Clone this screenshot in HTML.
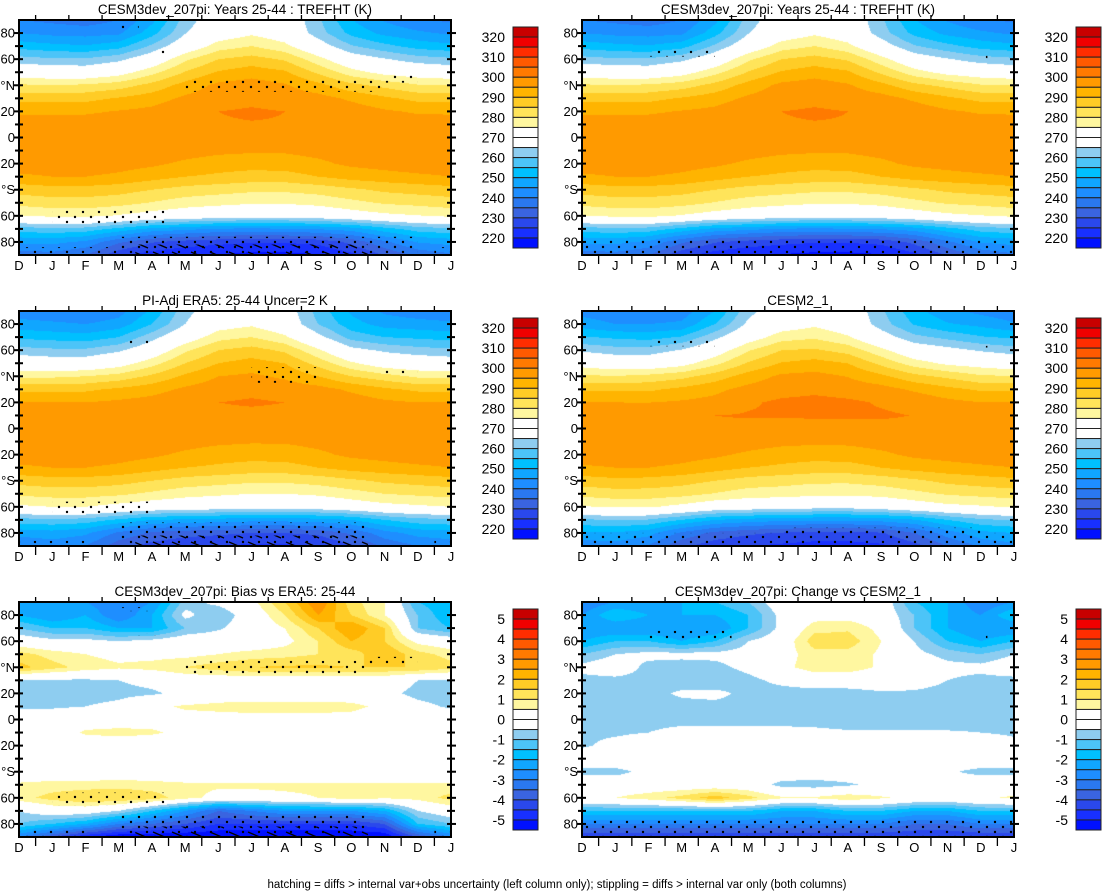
<!DOCTYPE html>
<html><head><meta charset="utf-8">
<style>
html,body{margin:0;padding:0;background:#fff;}
#wrap{position:relative;width:1102px;height:891px;overflow:hidden;font-family:"Liberation Sans",Arial,sans-serif;}
canvas{position:absolute;}
svg{position:absolute;left:0;top:0;}
</style></head>
<body>
<div id="wrap">
<canvas id="c0"></canvas>
<canvas id="c1"></canvas>
<canvas id="c2"></canvas>
<canvas id="c3"></canvas>
<canvas id="c4"></canvas>
<canvas id="c5"></canvas>
<svg id="ov" width="1102" height="891"></svg>
</div>
<script>
// ---- data ----
const monthLabels = ['D','J','F','M','A','M','J','J','A','S','O','N','D','J'];
const latRows = [90,80,70,60,50,40,30,20,10,0,-10,-20,-30,-40,-50,-60,-70,-80,-90];
const yTickLabels = ['80','60','°N','20','0','20','°S','60','80'];
const yTickLats = [80,60,40,20,0,-20,-40,-60,-80];
const tempBarLabels = ['320','310','300','290','280','270','260','250','240','230','220'];
const diffBarLabels = ['5','4','3','2','1','0','-1','-2','-3','-4','-5'];
// ERA5-like climatology (K), rows = latRows, cols = months D..J
const era5Grid = [
[242,241,240,243,251,263,270,272,269,258,249,244,242,241],
[247,246,245,247,255,265,272,274,270,260,252,248,247,246],
[254,253,252,255,263,271,278,280,276,267,258,255,254,253],
[262,261,261,264,270,279,285,287,284,276,267,264,262,261],
[270,269,269,272,278,285,290,292,290,283,276,271,270,269],
[279,279,280,282,286,291,295,296,294,290,285,282,279,279],
[289,289,289,291,293,296,298,299,298,297,294,291,289,289],
[295,295,295,296,297,299,300,300.5,300,299,298,296,295,295],
[298,298,298,298.5,299,299,299,299,299,299,298.5,298.5,298,298],
[298.5,298.5,298.5,298.5,298.5,298,297.5,297.5,297.5,297.5,298,298.5,298.5,298.5],
[298.5,298.5,298.5,298.5,298,297,296,295.5,295.5,296.5,297.5,298.5,298.5,298.5],
[298,298,298,297,296,294,292.5,292,292.5,294,296,297,298,298],
[294,295,295,294,292,290,289,288,288,290,292,293,294,295],
[287,288,288,287,285,283,282,281,281,282,284,286,287,288],
[281,282,282,281,279,277,276,275,275,276,278,280,281,282],
[274,275,275,273,271,270,269,268,268,269,271,273,274,275],
[258,259,258,254,250,249,248,247,247,248,250,255,258,259],
[247,248,246,239,234,232,231,230,230,231,236,243,247,248],
[240,242,240,232,228,226,225,224,224,225,229,236,240,242]
];
// model minus ERA5 (K)
const biasGrid = [
[-2,-2.2,-2.5,-3,-2.5,-0.8,-0.3,0.3,1.5,3,1.2,0.5,-1.5,-2],
[-2,-2.5,-2,-3,-2,-0.3,-1,0,1,2.5,1.5,0.5,-1,-2],
[-1,-1.5,-1.5,-2,-2,-1,-0.6,0,0.5,1.5,2.5,1.5,-1,-1.5],
[0,-0.3,-0.3,-0.5,-0.3,0,0,0,0.3,1,2,1.5,0.3,0],
[1.2,0.8,0.5,0.3,0.3,0.3,0.5,0.7,0.8,1,1.2,2,1.2,0.8],
[1.7,1.2,0.8,0.6,0.7,1.0,1.3,1.5,1.6,1.6,1.5,1.5,1.5,1.2],
[-0.6,-0.6,-0.6,-0.5,-0.3,0,0,0,0,0,0,0,-0.5,-0.6],
[-0.8,-0.8,-0.8,-0.7,-0.6,-0.3,0,0,0,0,0,-0.3,-0.7,-0.8],
[-0.6,-0.6,-0.5,-0.3,0.3,0.6,0.7,0.8,0.8,0.8,0.7,0.3,-0.3,-0.6],
[0,0,0.1,0.1,0.2,0.2,0.2,0.2,0.2,0.2,0.2,0,0,0],
[0,0,0.6,0.7,0.6,0.3,0.2,0.2,0.2,0.1,0,0,0,0],
[0,0,0,0,0,0,0,0,0,0,0,0,0,0],
[0,0,0,0,0,0,0,0,0,0,0,0,0,0],
[0,0,0,0,0,0,0,0,0,0,0,0,0,0],
[0.6,0.7,0.7,0.8,0.7,0.6,0.6,0.6,0.6,0.6,0.6,0.6,0.6,0.6],
[0.8,1.2,1.5,1.5,1.3,0.7,0.3,0.3,0.4,0.5,0.8,0.6,0.7,1.2],
[-0.5,0,0,-0.5,-1.5,-2.5,-3.5,-3,-2.5,-2.5,-2.5,-2,-0.5,0],
[-1,-1.5,-2,-3,-3.5,-4,-4.5,-4.5,-4.5,-4.5,-4.5,-4,-1.5,-1],
[-3,-4,-5,-5.5,-5.5,-5.5,-5.5,-5.5,-5.5,-5.5,-5.5,-5.5,-4,-3]
];
// model minus CESM2_1 (K)
const changeGrid = [
[-3,-2.5,-2.5,-2,-1.5,-1,0,0,0,0,-1.5,-2,-3,-2.5],
[-2.5,-1.5,-2,-2,-2,-1.5,-0.3,0.2,0.2,0,-1,-2,-2.5,-1.5],
[-2.5,-2.5,-2.5,-2.5,-2.5,-1.5,-0.3,0.8,0.9,0.3,-1,-2,-2.5,-2.5],
[-2,-1.5,-1.5,-2,-1.5,-0.5,0,1.3,1.3,0.5,-0.5,-1.5,-2,-1.5],
[-1,-0.5,-0.3,-0.3,-0.3,-0.2,0.2,0.8,0.8,0.4,-0.3,-0.7,-1,-0.5],
[-0.3,0,-0.7,-0.8,-0.7,-0.3,0.3,0.8,0.8,0.4,0,-0.3,-0.3,0],
[-0.7,-0.7,-0.7,-0.8,-1.0,-0.7,-0.3,0,0,0,-0.2,-0.5,-0.7,-0.7],
[-0.8,-0.8,-0.7,-0.4,-0.3,-0.7,-0.8,-0.8,-0.8,-0.6,-0.6,-0.7,-0.8,-0.8],
[-0.7,-0.7,-0.7,-0.7,-0.7,-0.7,-0.7,-0.7,-0.7,-0.7,-0.7,-0.7,-0.7,-0.7],
[-0.9,-0.8,-0.7,-0.7,-0.7,-0.7,-0.7,-0.8,-0.9,-1.0,-1.0,-1.0,-0.9,-0.8],
[-0.6,-0.6,-0.5,-0.3,-0.3,-0.3,-0.3,-0.3,-0.4,-0.4,-0.4,-0.4,-0.5,-0.6],
[-0.6,-0.3,0,0,0,0,0,0,0,0,0,0,0,-0.3],
[0,0,0,0,0,0,0,0,0,0,0,0,0,0],
[-0.7,-0.7,-0.3,0,0,0,0,0,0,0,0,-0.4,-0.7,-0.7],
[0,0,0,0,0,0,-0.7,-0.8,-0.6,-0.3,0,0,0,0],
[0.3,0.5,0.8,1.2,1.8,1.2,0.6,0.6,0.9,0.6,0.3,0.2,0.4,0.6],
[-1.5,-1.5,-1.5,-1.5,-1.5,-1.5,-2,-2,-1.5,-1.5,-2,-2,-1.5,-1.5],
[-3,-3,-3,-3,-3,-3,-3,-3,-3,-3,-3.5,-3.5,-3,-3],
[-4.5,-4.5,-4.5,-4.5,-4.5,-4.5,-4.5,-4.5,-4.5,-4.5,-4.5,-4.5,-4.5,-4.5]
];
// significance regions: [monthStart, monthEnd, latLow, latHigh]
const stipple0 = [[3,3.6,83,86],[4,4.5,64,67],[5,11,35,45],[11,12,42,48],[1,4.5,-66,-56],[0,3,-90,-84],[3,12,-90,-76],[12.5,13,-90,-84]];
const stipple1 = [[2,4,62,68],[12,12.2,60,66],[0,13,-90,-78]];
const stipple2 = [[3,4.2,64,68],[7,9,35,47],[11,12,42,46],[1,4,-66,-56],[0,2,-90,-86],[3,10.5,-90,-72],[12.5,13,-90,-86]];
const stipple3 = [[2,4,63,68],[12,12.2,62,66],[0,13,-90,-80],[6,12,-82,-76]];
const stipple4 = [[3,4,83,86],[3.5,4.2,64,66],[5,10.5,35,45],[10.5,12,42,48],[1,4.5,-66,-56],[0,2,-90,-84],[3,10.5,-90,-72],[12.5,13,-90,-84]];
const stipple5 = [[2,4.5,62,68],[12,12.2,60,66],[0,13,-90,-76]];
const hatch0 = [[3.5,10.5,-90,-82]];
const hatch2 = [[3.5,10.5,-90,-82]];
const hatch4 = [[3.5,10.5,-90,-82]];

// ---- rendering ----
const colorsUp = ['#0010ff','#1830ff','#2a48ec','#3a64e0','#2a78f0','#1e8eff','#10a6ff','#00c0ff','#4cc4f8','#8ecdf0','#ffffff','#ffffff','#fff7a0','#ffe45a','#ffcc26','#ffb400','#ff9a00','#ff7a00','#ff5a00','#ff2d00','#f00000','#c80000'];
function hex(c){return [parseInt(c.substr(1,2),16),parseInt(c.substr(3,2),16),parseInt(c.substr(5,2),16)];}
const rgbUp = colorsUp.map(hex);
const W=432,H=235;
const panels=[
 {x:19,y:20,title:'CESM3dev_207pi: Years 25-44 : TREFHT (K)',kind:'t',st:stipple0,ht:hatch0,name:'model-left'},
 {x:582,y:20,title:'CESM3dev_207pi: Years 25-44 : TREFHT (K)',kind:'t',st:stipple1,ht:null,name:'model-right'},
 {x:19,y:311,title:'PI-Adj ERA5: 25-44 Uncer=2 K',kind:'t',st:stipple2,ht:hatch2,name:'era5'},
 {x:582,y:311,title:'CESM2_1',kind:'t',st:stipple3,ht:null,name:'cesm2'},
 {x:19,y:602,title:'CESM3dev_207pi: Bias vs ERA5: 25-44',kind:'d',st:stipple4,ht:hatch4,name:'bias'},
 {x:582,y:602,title:'CESM3dev_207pi: Change vs CESM2_1',kind:'d',st:stipple5,ht:null,name:'change'}
];
function field(p,r,c){
 const e=era5Grid[r][c], b=biasGrid[r][c], ch=changeGrid[r][c];
 if(p===0||p===1) return e+b;
 if(p===2) return e;
 if(p===3) return e+b-ch;
 if(p===4) return b;
 return ch;
}
function bin(v,kind){
 let lo,step; if(kind==='t'){lo=220;step=5;} else {lo=-5;step=0.5;}
 let k=Math.floor((v-lo)/step)+1; if(k<0)k=0; if(k>21)k=21; return k;
}
const xOf=(p,m)=>panels[p].x+m*W/13;
const yOf=(p,lat)=>panels[p].y+(90-lat)/180*H;
panels.forEach((P,pi)=>{
 const cv=document.getElementById('c'+pi);
 cv.width=W;cv.height=H;cv.style.left=P.x+'px';cv.style.top=P.y+'px';
 const ctx=cv.getContext('2d');const img=ctx.createImageData(W,H);
 for(let py=0;py<H;py++){
  const lat=90-(py+0.5)/H*180; let rf=(90-lat)/10; let r0=Math.min(17,Math.floor(rf)); let fr=rf-r0;
  for(let px=0;px<W;px++){
   const mf=(px+0.5)/W*13; let c0=Math.min(12,Math.floor(mf)); let fc=mf-c0;
   const v=(1-fr)*((1-fc)*field(pi,r0,c0)+fc*field(pi,r0,c0+1))+fr*((1-fc)*field(pi,r0+1,c0)+fc*field(pi,r0+1,c0+1));
   const col=rgbUp[bin(v,P.kind)];const i=(py*W+px)*4;
   img.data[i]=col[0];img.data[i+1]=col[1];img.data[i+2]=col[2];img.data[i+3]=255;
  }
 }
 ctx.putImageData(img,0,0);
});
const NS='http://www.w3.org/2000/svg';const svg=document.getElementById('ov');
function mk(tag,attrs,parent){const e=document.createElementNS(NS,tag);for(const k in attrs)e.setAttribute(k,attrs[k]);(parent||svg).appendChild(e);return e;}
const defs=mk('defs',{});
const pat=mk('pattern',{id:'dots',width:16,height:10,patternUnits:'userSpaceOnUse'},defs);
mk('circle',{cx:3,cy:2,r:1.2,fill:'#000'},pat);mk('circle',{cx:11,cy:7,r:1.2,fill:'#000'},pat);
const hp=mk('pattern',{id:'hatch',width:19,height:10,patternUnits:'userSpaceOnUse'},defs);
mk('line',{x1:1,y1:2,x2:15,y2:8,stroke:'#000','stroke-width':1.4},hp);
panels.forEach((P,pi)=>{
 const g=mk('g',{});
 
 
 const cp=mk('clipPath',{id:'clip'+pi},defs);mk('rect',{x:P.x,y:P.y,width:W,height:H},cp);
 const sg=mk('g',{'clip-path':'url(#clip'+pi+')'},g);
 P.st.forEach(s=>{const r=mk('rect',{x:xOf(pi,s[0]),y:yOf(pi,s[3]),width:xOf(pi,s[1])-xOf(pi,s[0]),height:yOf(pi,s[2])-yOf(pi,s[3]),fill:'url(#dots)'},sg);
  
  });
 if(P.ht)P.ht.forEach(s=>{const r=mk('rect',{x:xOf(pi,s[0]),y:yOf(pi,s[3]),width:xOf(pi,s[1])-xOf(pi,s[0]),height:yOf(pi,s[2])-yOf(pi,s[3]),fill:'url(#hatch)'},sg);
  
  });
 // ticks
 for(let lat=-80;lat<=80;lat+=10){const y=yOf(pi,lat);const big=yTickLats.indexOf(lat)>=0;
  mk('line',{x1:P.x-(big?5:4),y1:y,x2:P.x+4,y2:y,stroke:'#000','stroke-width':2},g);
  mk('line',{x1:P.x+W-4,y1:y,x2:P.x+W+(big?5:4),y2:y,stroke:'#000','stroke-width':2},g);}
 for(let m=0.5;m<13;m+=1){const x=xOf(pi,m);
  mk('line',{x1:x,y1:P.y+H,x2:x,y2:P.y+H+9,stroke:'#000','stroke-width':1.3},g);
  mk('line',{x1:x,y1:P.y-5,x2:x,y2:P.y,stroke:'#000','stroke-width':1.3},g);}
 mk('rect',{x:P.x,y:P.y,width:W,height:H,fill:'none',stroke:'#000','stroke-width':2},g);
 yTickLabels.forEach((t,i)=>{const tx=mk('text',{x:P.x-4,y:yOf(pi,yTickLats[i])+4.5,'text-anchor':'end','font-size':13},g);tx.textContent=t;
  
  });
 monthLabels.forEach((t,i)=>{const tx=mk('text',{x:xOf(pi,i),y:P.y+H+15,'text-anchor':'middle','font-size':13},g);tx.textContent=t;
  
  });
 const ti=mk('text',{x:P.x+W/2,y:P.y-6,'text-anchor':'middle','font-size':13.5},g);ti.textContent=P.title;
 
 
 // colorbar
 const cbx=P.x+494,cby=P.y+7,bh=221/22;const cb=mk('g',{},g);
 
 
 for(let k=0;k<22;k++){mk('rect',{x:cbx,y:cby+k*bh,width:25,height:bh,fill:colorsUp[21-k],stroke:'#222','stroke-width':1},cb);}
 const labs=P.kind==='t'?tempBarLabels:diffBarLabels;
 labs.forEach((t,i)=>{const tx=mk('text',{x:cbx-8,y:cby+(1+2*i)*bh+5,'text-anchor':'end','font-size':14},cb);tx.textContent=t;
  
  });
});
const ft=mk('text',{x:557,y:888,'text-anchor':'middle','font-size':11.5});
ft.textContent='hatching = diffs > internal var+obs uncertainty (left column only); stippling = diffs > internal var only (both columns)';


</script>
</body></html>
